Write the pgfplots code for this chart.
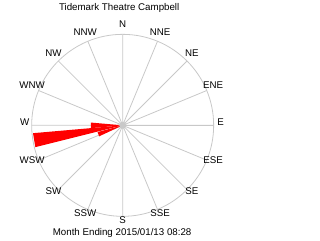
\documentclass[border=0pt]{standalone}
\usepackage{pgfplots}
\pgfplotsset{compat=1.18}
\usepgfplotslibrary{polar}
\usepackage{fontspec}
\setmainfont{Liberation Sans}
\definecolor{gridc}{RGB}{200,200,200}
\begin{document}
\begin{tikzpicture}[every node/.style={font=\fontsize{7.3}{8}\selectfont, inner sep=0pt},
  lbl/.style={anchor=center, yshift=2.25pt}]
\path[use as bounding box] (-92.0pt,-86.0pt) rectangle (148.0pt,94.0pt);
\begin{polaraxis}[
  at={(0,0)}, anchor=center,
  width=136.5pt, height=136.5pt, scale only axis,
  xmin=0, xmax=360, ymin=0, ymax=91,
  xtick={0,22.5,...,337.5},
  xticklabels={,,,,,,,,,,,,,,,,},
  ytick=\empty,
  xmajorgrids, grid style={gridc, line width=0.6pt},
  axis line style={gridc, line width=0.6pt},
  major tick length=0pt,
  clip=false,
]
% wind sectors (angle in degrees counter-clockwise from east, radius)
\addplot[fill=red, draw=none] coordinates {(0,0) (185,90) (194,90)} --cycle;
\addplot[fill=red, draw=none] coordinates {(0,0) (175,32) (185,32)} --cycle;
\addplot[fill=red, draw=none] coordinates {(0,0) (195,26) (205,26)} --cycle;
\addplot[only marks, mark=*, mark size=2.3pt, color=gridc] coordinates {(0,0)};
% compass labels
\node[lbl] at (axis cs:90,98) {N};
\node[lbl] at (axis cs:67.5,98) {NNE};
\node[lbl] at (axis cs:45,98) {NE};
\node[lbl] at (axis cs:22.5,98) {ENE};
\node[lbl] at (axis cs:0,98) {E};
\node[lbl] at (axis cs:337.5,98) {ESE};
\node[lbl] at (axis cs:315,98) {SE};
\node[lbl] at (axis cs:292.5,98) {SSE};
\node[lbl] at (axis cs:270,98) {S};
\node[lbl] at (axis cs:247.5,98) {SSW};
\node[lbl] at (axis cs:225,98) {SW};
\node[lbl] at (axis cs:202.5,98) {WSW};
\node[lbl] at (axis cs:180,98) {W};
\node[lbl] at (axis cs:157.5,98) {WNW};
\node[lbl] at (axis cs:135,98) {NW};
\node[lbl] at (axis cs:112.5,98) {NNW};
\end{polaraxis}
\node[anchor=base] at (-2.6pt,86.5pt) {Tidemark Theatre Campbell};
\node[anchor=base] at (-0.4pt,-82.8pt) {Month Ending 2015/01/13 08:28};
\end{tikzpicture}
\end{document}
